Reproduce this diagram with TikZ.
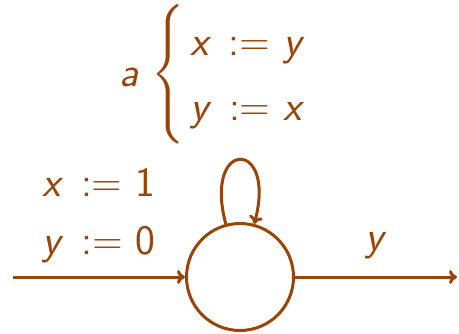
\documentclass[tikz,border=0pt]{standalone}
\usepackage{exscale}
\usepackage{graphicx}
\usepackage{tikz}
\usetikzlibrary{arrows.meta,positioning}
\definecolor{auburn}{RGB}{153,68,8}
\newcommand{\va}[1]{\textsl{#1}}
\newcommand{\asg}[2]{\va{#1}\hspace{0.4em}:=\hspace{0.3em}#2}
\newcommand{\bigbrace}{\scalebox{1}[1.12]{$\left\{\vcenter{\hbox{\rule{0pt}{66pt}}}\right.$}}

\begin{document}
\begin{tikzpicture}[
  x=0.5pt,
  y=0.5pt,
  color=auburn,
  font=\fontsize{21}{25.2}\selectfont\sffamily,
  state/.style={
    draw,
    circle,
    line width=1.5pt,
    minimum size=53.5pt,
    inner sep=0pt
  },
  arr/.style={
    -{To[length=4pt,width=7pt]},
    line width=1.5pt
  }
]
\useasboundingbox (0,0) rectangle (459,333);

\node[state] (st) at (240,56) {};

\coordinate (in) at (13,56);
\coordinate (out) at (457,56);

\node[above=36.5pt of st, xshift=-14pt, inner sep=0pt] (upd)
{\va{a}\hspace{6pt}\bigbrace\hspace{2pt}\raisebox{-1pt}{\begin{tabular}{@{}l@{}}\asg{x}{\va{y}}\\[7.3pt]\asg{y}{\va{x}}\end{tabular}}};

\draw[arr] (in) -- (st)
  node[midway, above=3pt, align=center] (init) {\asg{x}{1}\\[3.8pt]\asg{y}{0}};
\draw[arr] (st) -- (out)
  node[midway, above=5pt] (lbl) {\va{y}};
\draw[arr] (st) to[loop above, looseness=8] (st);

\end{tikzpicture}
\end{document}
